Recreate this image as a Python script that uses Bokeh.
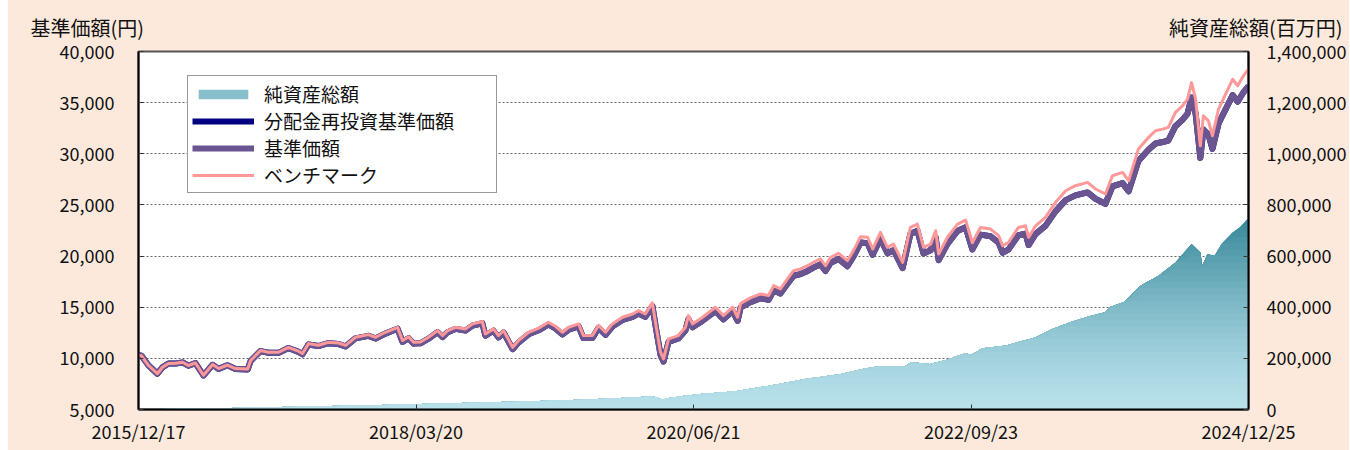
import numpy as np
import pandas as pd
from bokeh.plotting import figure
from bokeh.models import (Range1d, LinearAxis, FixedTicker, NumeralTickFormatter,
                          DatetimeTickFormatter, Legend, LegendItem, Label)
from bokeh.embed import file_html
from bokeh.resources import INLINE

# ---------------- data ----------------
line_dates = [
    "2015-12-17", "2015-12-26", "2016-01-16", "2016-02-11", "2016-02-26", "2016-03-15", "2016-04-05", "2016-04-26", "2016-05-13", "2016-06-03",
    "2016-06-27", "2016-07-24", "2016-08-11", "2016-09-06", "2016-09-30", "2016-11-05", "2016-11-14", "2016-12-13", "2017-01-06", "2017-02-05",
    "2017-03-06", "2017-04-05", "2017-04-17", "2017-05-05", "2017-06-03", "2017-07-03", "2017-08-02", "2017-08-23", "2017-09-21", "2017-10-30",
    "2017-11-20", "2017-12-19", "2018-01-24", "2018-02-08", "2018-02-26", "2018-03-13", "2018-04-02", "2018-04-26", "2018-05-23", "2018-06-07",
    "2018-06-22", "2018-07-15", "2018-08-14", "2018-09-04", "2018-10-03", "2018-10-12", "2018-11-05", "2018-11-20", "2018-12-05", "2019-01-01",
    "2019-01-18", "2019-02-17", "2019-03-19", "2019-04-17", "2019-05-08", "2019-05-29", "2019-06-16", "2019-07-16", "2019-07-30", "2019-08-26",
    "2019-09-13", "2019-10-04", "2019-10-24", "2019-11-23", "2019-12-23", "2020-01-10", "2020-01-30", "2020-02-20", "2020-02-29", "2020-03-15",
    "2020-03-24", "2020-04-08", "2020-05-07", "2020-05-28", "2020-06-06", "2020-06-18", "2020-07-18", "2020-08-25", "2020-09-18", "2020-10-15",
    "2020-10-30", "2020-11-08", "2020-12-07", "2021-01-06", "2021-01-30", "2021-02-14", "2021-03-06", "2021-03-27", "2021-04-14", "2021-05-05",
    "2021-05-26", "2021-06-12", "2021-07-03", "2021-07-18", "2021-08-02", "2021-08-26", "2021-09-21", "2021-10-09", "2021-10-30", "2021-11-20",
    "2021-12-05", "2021-12-28", "2022-01-18", "2022-02-05", "2022-03-04", "2022-03-27", "2022-04-17", "2022-05-05", "2022-05-26", "2022-06-10",
    "2022-06-19", "2022-07-15", "2022-08-14", "2022-09-07", "2022-09-27", "2022-10-21", "2022-11-20", "2022-12-14", "2022-12-26", "2023-01-12",
    "2023-02-11", "2023-03-04", "2023-03-13", "2023-04-03", "2023-05-02", "2023-06-01", "2023-07-01", "2023-07-30", "2023-09-04", "2023-09-28",
    "2023-10-27", "2023-11-17", "2023-12-17", "2024-01-04", "2024-02-02", "2024-03-03", "2024-03-24", "2024-04-14", "2024-05-01", "2024-05-22",
    "2024-06-12", "2024-06-27", "2024-07-09", "2024-07-21", "2024-08-04", "2024-08-13", "2024-08-28", "2024-09-09", "2024-09-27", "2024-10-18",
    "2024-11-08", "2024-11-23", "2024-12-10", "2024-12-25",
]

benchmark = [
    10300, 10250, 9300, 8500, 9130, 9500, 9520, 9620, 9300, 9550,
    8350, 9400, 9000, 9350, 9000, 8950, 9790, 10760, 10600, 10600,
    11080, 10700, 10470, 11440, 11280, 11570, 11500, 11270, 12060, 12320,
    12060, 12550, 13040, 11740, 12100, 11570, 11600, 12060, 12710, 12230,
    12710, 13040, 12880, 13370, 13600, 12390, 12880, 12230, 12710, 11080,
    11730, 12550, 12950, 13530, 13140, 12550, 13040, 13370, 12230, 12230,
    13230, 12550, 13370, 14020, 14340, 14670, 14340, 15420, 13530, 10600,
    9950, 11900, 12230, 13040, 14180, 13370, 14020, 15000, 14180, 15000,
    14020, 15380, 15910, 16300, 16150, 17110, 16790, 17760, 18570, 18740,
    19060, 19390, 19720, 19060, 19880, 20270, 19550, 20530, 21900, 21840,
    20690, 22320, 20860, 21170, 19390, 22800, 23130, 20860, 21170, 22480,
    20200, 21840, 23130, 23520, 21300, 22800, 22640, 22000, 21010, 21330,
    22800, 22960, 21830, 22960, 23780, 25250, 26390, 26880, 27200, 26560,
    26070, 27850, 28180, 27370, 30460, 31600, 32250, 32410, 32580, 34040,
    34690, 35340, 36960, 35340, 30780, 33710, 33220, 31760, 34360, 35830,
    37290, 36640, 37620, 38270,
]

base_price = [
    10300, 10250, 9300, 8500, 9120, 9490, 9500, 9600, 9280, 9530,
    8330, 9370, 8970, 9320, 8970, 8910, 9750, 10710, 10550, 10540,
    11010, 10630, 10400, 11360, 11200, 11480, 11400, 11170, 11950, 12200,
    11940, 12420, 12900, 11610, 11970, 11440, 11470, 11920, 12560, 12080,
    12560, 12880, 12720, 13200, 13430, 12220, 12700, 12050, 12530, 10900,
    11540, 12350, 12740, 13310, 12920, 12330, 12810, 13130, 11990, 11990,
    12980, 12300, 13110, 13750, 14060, 14380, 14050, 15110, 13250, 10360,
    9700, 11620, 11940, 12730, 13850, 13040, 13680, 14630, 13820, 14620,
    13660, 14990, 15500, 15880, 15720, 16660, 16340, 17290, 18080, 18240,
    18550, 18870, 19190, 18540, 19340, 19720, 19010, 19970, 21320, 21260,
    20130, 21710, 20280, 20580, 18830, 22160, 22480, 20260, 20560, 21830,
    19600, 21200, 22450, 22820, 20650, 22100, 21940, 21310, 20330, 20630,
    22050, 22190, 21080, 22170, 22950, 24370, 25470, 25930, 26220, 25590,
    25110, 26820, 27130, 26330, 29300, 30390, 31010, 31150, 31300, 32700,
    33320, 33930, 35500, 33920, 29600, 32370, 31880, 30480, 32960, 34350,
    35730, 35090, 36010, 36620,
]

# no distributions were paid, so the reinvested NAV coincides with the base price
reinvested_price = list(base_price)

nav_dates = [
    "2015-12-17", "2016-04-20", "2016-09-15", "2017-02-11", "2017-07-09", "2017-12-05", "2018-05-03", "2018-09-28",
    "2019-02-23", "2019-07-21", "2019-11-17", "2020-02-14", "2020-03-06", "2020-03-21", "2020-04-05", "2020-05-13",
    "2020-07-12", "2020-10-24", "2021-02-05", "2021-05-23", "2021-09-03", "2021-10-24", "2021-12-16", "2022-03-10",
    "2022-03-30", "2022-05-23", "2022-07-12", "2022-09-04", "2022-09-24", "2022-10-27", "2023-01-06", "2023-02-08",
    "2023-04-02", "2023-05-23", "2023-07-15", "2023-09-04", "2023-10-27", "2023-11-11", "2023-12-20", "2024-02-08",
    "2024-04-02", "2024-05-22", "2024-07-09", "2024-08-04", "2024-08-10", "2024-08-25", "2024-09-15", "2024-10-06",
    "2024-11-08", "2024-11-28", "2024-12-25",
]
net_assets = [
    1000, 3000, 6000, 10000, 14000, 18000, 22000, 27000,
    32000, 38000, 45000, 51000, 48000, 38000, 44000, 52000,
    61000, 71500, 94000, 120000, 139000, 155000, 168000, 168000,
    185000, 178000, 194000, 220000, 214000, 240000, 250000, 263000,
    282000, 315000, 341000, 363000, 380000, 402000, 419000, 484000,
    523000, 575000, 647000, 614000, 562000, 608000, 600000, 647000,
    692000, 712000, 750000,
]

x_tick_labels = ["2015/12/17", "2018/03/20", "2020/06/21", "2022/09/23", "2024/12/25"]
left_ticks = [5000, 10000, 15000, 20000, 25000, 30000, 35000, 40000]
right_ticks = [0, 200000, 400000, 600000, 800000, 1000000, 1200000, 1400000]

series_names = ["純資産総額", "分配金再投資基準価額", "基準価額", "ベンチマーク"]
left_title = "基準価額(円)"
right_title = "純資産総額(百万円)"

# ---------------- figure ----------------
FONT = "Noto Sans CJK JP"
BG = "#FCE9DC"

lx = pd.to_datetime(line_dates)
nx = pd.to_datetime(nav_dates)
tick_dates = pd.to_datetime([s.replace("/", "-") for s in x_tick_labels])

p = figure(width=1342, height=461, x_axis_type="datetime",
           x_range=Range1d(tick_dates[0], tick_dates[-1]),
           y_range=Range1d(left_ticks[0], left_ticks[-1]),
           output_backend="svg", toolbar_location=None,
           background_fill_color="white", border_fill_color=BG,
           min_border_left=131, min_border_right=101,
           min_border_top=62, min_border_bottom=41,
           margin=(-11, 0, 0, 7))
p.extra_y_ranges = {"nav": Range1d(right_ticks[0], right_ticks[-1])}

# net assets area with a vertical gradient (stacked colour bands)
nav = np.array(net_assets, dtype=float)
c_low = np.array([184, 225, 235])
c_high = np.array([52, 134, 153])
band = 25000
tops = np.arange(band, nav.max() + band, band)[::-1]
area_renderers = []
for i, hi in enumerate(tops):
    t = min((hi - band / 2) / 760000.0, 1.0) ** 1.35
    c = (c_low + (c_high - c_low) * t).astype(int)
    col = "#%02x%02x%02x" % tuple(c)
    y2 = nav if i == 0 else np.minimum(nav, hi)
    r = p.varea(x=nx, y1=np.zeros_like(nav), y2=y2, fill_color=col,
                y_range_name="nav")
    area_renderers.append(r)
legend_area = area_renderers[len(area_renderers) // 2]

r_re = p.line(lx, reinvested_price, line_color="#000080", line_width=6, line_join="round")
r_base = p.line(lx, base_price, line_color="#6B5591", line_width=6, line_join="round")
r_bm = p.line(lx, benchmark, line_color="#FF9999", line_width=3, line_join="round")

# axes
p.yaxis.ticker = FixedTicker(ticks=left_ticks)
p.yaxis.formatter = NumeralTickFormatter(format="0,0")
right_axis = LinearAxis(y_range_name="nav", ticker=FixedTicker(ticks=right_ticks),
                        formatter=NumeralTickFormatter(format="0,0"))
p.add_layout(right_axis, "right")
p.xaxis.ticker = FixedTicker(ticks=[d.value // 10**6 for d in tick_dates])
p.xaxis.formatter = DatetimeTickFormatter(
    milliseconds="%Y/%m/%d", seconds="%Y/%m/%d", minsec="%Y/%m/%d", minutes="%Y/%m/%d",
    hourmin="%Y/%m/%d", hours="%Y/%m/%d", days="%Y/%m/%d", months="%Y/%m/%d", years="%Y/%m/%d",
    context=None)

for ax in [p.xaxis[0], p.yaxis[0], right_axis]:
    ax.major_label_text_font = FONT
    ax.major_label_text_font_size = "18px"
    ax.major_label_text_color = "#111111"
    ax.axis_line_color = "black"
    ax.axis_line_width = 2
    ax.major_tick_in = 5
    ax.major_tick_out = 0
    ax.major_tick_line_color = "#333333"
    ax.minor_tick_line_color = None
p.yaxis[0].major_label_standoff = 24
right_axis.major_label_standoff = 18
p.xaxis[0].major_label_standoff = 8

p.xgrid.grid_line_color = None
p.ygrid.grid_line_color = "#666666"
p.ygrid.grid_line_dash = "2 2"
p.ygrid.grid_line_width = 1
p.outline_line_color = "#555555"
p.outline_line_width = 2

# titles above the axes (placed in the side panel so they are not clipped)
title_y = left_ticks[-1] + (left_ticks[-1] - left_ticks[0]) * (24.5 / 358.4)
p.add_layout(Label(x=-108, y=title_y, x_units="screen", y_units="data", text=left_title,
                   text_font=FONT, text_font_size="20px", text_baseline="middle",
                   text_align="left", text_color="#111111"), "above")
p.add_layout(Label(x=1204, y=title_y, x_units="screen", y_units="data", text=right_title,
                   text_font=FONT, text_font_size="20px", text_baseline="middle",
                   text_align="right", text_color="#111111"), "above")

legend = Legend(items=[
    LegendItem(label=series_names[0], renderers=[legend_area]),
    LegendItem(label=series_names[1], renderers=[r_re]),
    LegendItem(label=series_names[2], renderers=[r_base]),
    LegendItem(label=series_names[3], renderers=[r_bm]),
], location=(49, 216))
legend.label_text_font = FONT
legend.label_text_font_size = "19px"
legend.label_text_color = "#111111"
legend.glyph_width = 62
legend.glyph_height = 12
legend.label_height = 26
legend.label_width = 228
legend.label_standoff = 10
legend.spacing = 0
legend.padding = 4
legend.margin = 0
legend.border_line_color = "#333333"
legend.border_line_width = 1
legend.background_fill_alpha = 1
p.add_layout(legend, "center")

open("out.html", "w").write(file_html(p, INLINE))
